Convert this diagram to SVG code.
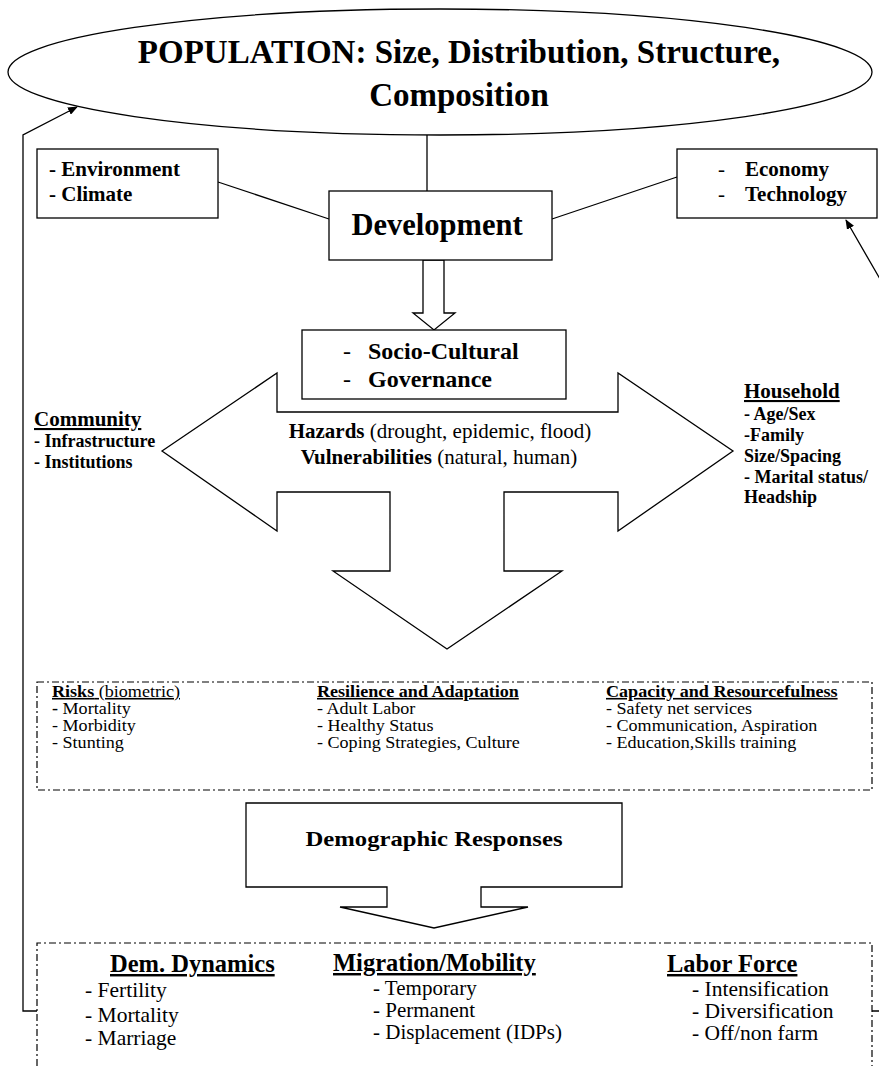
<svg xmlns="http://www.w3.org/2000/svg" width="879" height="1066" viewBox="0 0 879 1066">
<style>
.ln{stroke:#000;stroke-width:1.3;fill:none}
.box{fill:#fff;stroke:#000;stroke-width:1.3}
.dd{fill:none;stroke:#000;stroke-width:1.2;stroke-dasharray:7 3 2 3}
.b{font-family:"Liberation Serif","Times New Roman",serif;font-weight:bold;fill:#000}
.r{font-family:"Liberation Serif","Times New Roman",serif;font-weight:normal;fill:#000}
.u{text-decoration:underline}
.s{font-size:16px}
</style>
<defs>
<marker id="ah" markerWidth="10" markerHeight="8" refX="9" refY="4" orient="auto" markerUnits="userSpaceOnUse">
<path d="M0,0 L10,4 L0,8 Z" fill="#000"/>
</marker>
</defs>
<rect width="879" height="1066" fill="#fff"/>

<g id="connectors">
<line class="ln" x1="427" y1="135" x2="427" y2="191"/>
<line class="ln" x1="218" y1="182" x2="329" y2="219"/>
<line class="ln" x1="552" y1="219" x2="677" y2="177"/>
<path class="ln" d="M37,1011 H23 V135 L77,107" marker-end="url(#ah)" stroke="#333" stroke-width="1.6"/>
<path class="ln" d="M872,1011 H884 V286 L846,220" marker-end="url(#ah)"/>
<polygon class="box" points="423,260 444,260 444,313 455,313 434,330 413,313 423,313"/>
</g>

<g id="population">
<ellipse class="box" cx="440" cy="72" rx="432" ry="63"/>
<text class="b" x="459" y="63" font-size="33" text-anchor="middle">POPULATION: Size, Distribution, Structure,</text>
<text class="b" x="459" y="106" font-size="33" text-anchor="middle">Composition</text>
</g>

<g id="environment">
<rect class="box" x="37" y="149" width="181" height="69"/>
<text class="b" x="49" y="176" font-size="21">- Environment</text>
<text class="b" x="49" y="201" font-size="21">- Climate</text>
</g>

<g id="economy">
<rect class="box" x="677" y="149" width="200" height="69"/>
<text class="r" x="718" y="176" font-size="21">-</text>
<text class="b" x="745" y="176" font-size="21">Economy</text>
<text class="r" x="718" y="201" font-size="21">-</text>
<text class="b" x="745" y="201" font-size="21">Technology</text>
</g>

<g id="development">
<rect class="box" x="329" y="191" width="223" height="69"/>
<text class="b" x="437" y="235" font-size="30.5" text-anchor="middle">Development</text>
</g>

<g id="hazards-arrow">
<polygon class="box" points="162,451 277,373 277,412 618,412 618,373 733,451 618,531 618,492 504,492 504,571 562,571 447,649 333,571 390,571 390,492 277,492 277,531"/>
<text x="440" y="438" font-size="21" text-anchor="middle"><tspan class="b">Hazards</tspan><tspan class="r"> (drought, epidemic, flood)</tspan></text>
<text x="439" y="464" font-size="21" text-anchor="middle"><tspan class="b">Vulnerabilities</tspan><tspan class="r"> (natural, human)</tspan></text>
</g>

<g id="sociocultural">
<rect class="box" x="302" y="330" width="264" height="69"/>
<text class="r" x="343" y="359" font-size="24">-</text>
<text class="b" x="368" y="359" font-size="24">Socio-Cultural</text>
<text class="r" x="343" y="387" font-size="24">-</text>
<text class="b" x="368" y="387" font-size="24">Governance</text>
</g>

<g id="community">
<text class="b u" x="34" y="426" font-size="21">Community</text>
<text class="b" x="34" y="447" font-size="18">- Infrastructure</text>
<text class="b" x="34" y="468" font-size="18">- Institutions</text>
</g>

<g id="household">
<text class="b u" x="744" y="398" font-size="21">Household</text>
<text class="b" x="744" y="420" font-size="18">- Age/Sex</text>
<text class="b" x="744" y="441" font-size="18">-Family</text>
<text class="b" x="744" y="462" font-size="18">Size/Spacing</text>
<text class="b" x="744" y="483" font-size="18">- Marital status/</text>
<text class="b" x="744" y="503" font-size="18">Headship</text>
</g>

<g id="risks-box">
<rect class="dd" x="37" y="682" width="835" height="108"/>
<g transform="translate(52,0) scale(1.13,1)">
<text class="s" x="0" y="697"><tspan class="b u">Risks</tspan><tspan class="r u"> (biometric)</tspan></text>
<text class="s" x="0" y="714"><tspan class="b">-</tspan><tspan class="r"> Mortality</tspan></text>
<text class="r s" x="0" y="731">- Morbidity</text>
<text class="r s" x="0" y="748">- Stunting</text>
</g>
<g transform="translate(317,0) scale(1.13,1)">
<text class="b u s" x="0" y="697">Resilience and Adaptation</text>
<text class="r s" x="0" y="714">- Adult Labor</text>
<text class="r s" x="0" y="731">- Healthy Status</text>
<text class="r s" x="0" y="748">- Coping Strategies, Culture</text>
</g>
<g transform="translate(606,0) scale(1.13,1)">
<text class="b u s" x="0" y="697">Capacity and Resourcefulness</text>
<text class="r s" x="0" y="714">- Safety net services</text>
<text class="r s" x="0" y="731">- Communication, Aspiration</text>
<text class="r s" x="0" y="748">- Education,Skills training</text>
</g>
</g>

<g id="demographic-responses">
<polygon class="box" points="246,803 622,803 622,887 481,887 481,907 528,907 434,928 340,907 387,907 387,887 246,887"/>
<text class="b" x="434" y="846" font-size="22" text-anchor="middle" textLength="257" lengthAdjust="spacingAndGlyphs">Demographic Responses</text>
</g>

<g id="responses-box">
<path class="dd" d="M37,1066 V943 H872 V1066"/>
<text class="b u" x="110" y="972" font-size="24.5">Dem. Dynamics</text>
<text class="r" x="85" y="997" font-size="21.5">- Fertility</text>
<text class="r" x="85" y="1022" font-size="21.5">- Mortality</text>
<text class="r" x="85" y="1045" font-size="21.5">- Marriage</text>
<text class="b u" x="333" y="971" font-size="24.5">Migration/Mobility</text>
<text class="r" x="373" y="995" font-size="21">- Temporary</text>
<text class="r" x="373" y="1017" font-size="21">- Permanent</text>
<text class="r" x="373" y="1039" font-size="21">- Displacement (IDPs)</text>
<text class="b u" x="667" y="972" font-size="24.5">Labor Force</text>
<text class="r" x="692" y="996" font-size="21.5">- Intensification</text>
<text class="r" x="692" y="1018" font-size="21.5">- Diversification</text>
<text class="r" x="692" y="1040" font-size="21.5">- Off/non farm</text>
</g>
</svg>
